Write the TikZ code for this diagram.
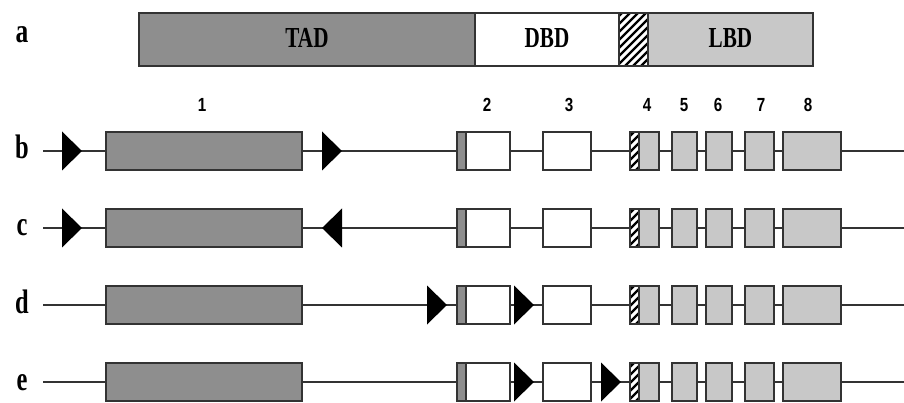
\documentclass[tikz,border=0pt]{standalone}
\usepackage{fontspec}
\setmainfont{Liberation Serif}
\newfontfamily\numfont{Liberation Sans}
\usetikzlibrary{calc}
\definecolor{dgray}{HTML}{8E8E8E}
\definecolor{lgray}{HTML}{C8C8C8}
\definecolor{edge}{HTML}{333333}
\newcommand{\hatchrect}[4]{%
  \begin{scope}
    \clip (#1,#2) rectangle (#3,#4);
    \fill[white] (#1,#2) rectangle (#3,#4);
    \foreach \k in {-90,-82,...,60}{
      \draw[black,line width=2.4pt] (#1+\k,#4) -- ++(80,-80);
    }
  \end{scope}
  \draw[edge,line width=1.3pt] (#1,#2) rectangle (#3,#4);
}
\tikzset{
  exon/.style={draw=edge,line width=1.3pt,rectangle,inner sep=0pt,minimum height=38pt},
  backbone/.style={draw=edge,line width=1.3pt},
  rowlab/.style={font=\fontsize{34}{34}\selectfont\bfseries,anchor=base,inner sep=0pt},
  numlab/.style={font=\numfont\fontsize{19}{19}\selectfont\bfseries,anchor=base,inner sep=0pt},
  barlab/.style={font=\fontsize{29}{29}\selectfont\bfseries,anchor=base,inner sep=0pt},
  tri/.style={fill=black}
}
\newcommand{\rtri}[2]{\fill[tri] (#1,#2-19.5) -- (#1+20,#2) -- (#1,#2+19.5) -- cycle;}
\newcommand{\ltri}[2]{\fill[tri] (#1+20,#2-19.5) -- (#1,#2) -- (#1+20,#2+19.5) -- cycle;}
\begin{document}
\begin{tikzpicture}[x=1pt,y=-1pt]
\useasboundingbox (0,0) rectangle (904,403);
% top bar
\node[exon,fill=dgray,minimum width=336pt,minimum height=53pt] (tad) at (307,39.5) {};
\node[exon,fill=white,minimum width=144pt,minimum height=53pt] (dbd) at (547,39.5) {};
\node[exon,fill=lgray,minimum width=165pt,minimum height=53pt] (lbd) at (730.5,39.5) {};
\hatchrect{619}{13}{648}{66}
\node[barlab] at (307,48) {\scalebox{0.73}[1]{TAD}};
\node[barlab] at (547,48) {\scalebox{0.73}[1]{DBD}};
\node[barlab] at (730.5,48) {\scalebox{0.73}[1]{LBD}};
\node[rowlab] (la) at (22,43) {\scalebox{0.75}[1]{a}};
% exon numbers
\foreach \n/\x in {1/202,2/487,3/569,4/647,5/684,6/718,7/761,8/808}{
  \node[numlab] (n\n) at (\x,112) {\scalebox{0.8}[1]{\n}};
}
% rows
\foreach \r/\y in {b/151,c/228,d/305,e/382}{
  \coordinate (\r s) at (43,\y);
  \coordinate (\r t) at (904,\y);
  \draw[backbone] (\r s) -- (\r t);
  \node[rowlab] (l\r) at (22,\y+8) {\scalebox{0.72}[1]{\r}};
  \node[exon,fill=dgray,minimum width=196pt] (\r1) at (204,\y) {};
  \node[exon,fill=white,minimum width=53pt] (\r2) at (483.5,\y) {};
  \node[exon,fill=dgray,minimum width=9pt,anchor=west] (\r2d) at (\r2.west) {};
  \node[exon,fill=white,minimum width=48pt] (\r3) at (567,\y) {};
  \node[exon,fill=lgray,minimum width=29pt] (\r4) at (644.5,\y) {};
  \hatchrect{630}{\y-19}{639}{\y+19}
  \node[exon,fill=lgray,minimum width=25pt] (\r5) at (684.5,\y) {};
  \node[exon,fill=lgray,minimum width=26pt] (\r6) at (719,\y) {};
  \node[exon,fill=lgray,minimum width=29pt] (\r7) at (759.5,\y) {};
  \node[exon,fill=lgray,minimum width=58pt] (\r8) at (812,\y) {};
}
% triangles
\rtri{62}{151}\rtri{322}{151}
\rtri{62}{228}\ltri{322}{228}
\rtri{427}{305}\rtri{514}{305}
\rtri{514}{382}\rtri{601}{382}
\end{tikzpicture}
\end{document}
